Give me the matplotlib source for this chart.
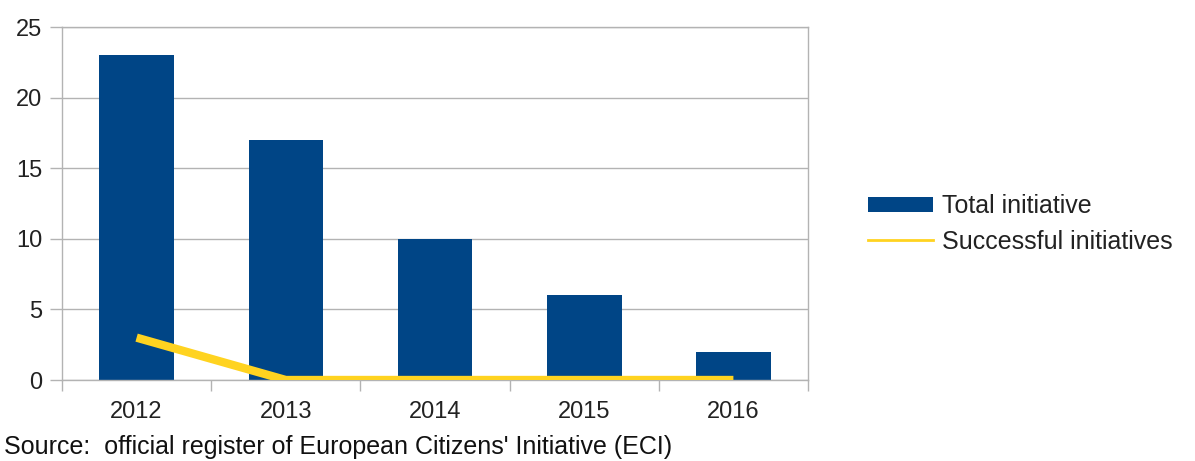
import numpy as np
from matplotlib import pyplot as plt
from matplotlib.patches import Patch
from matplotlib.lines import Line2D

years = ['2012', '2013', '2014', '2015', '2016']
total = [23, 17, 10, 6, 2]
successful = [3, 0, 0, 0, 0]

blue = '#004586'
yellow = '#ffd320'
grid = '#b3b3b3'

plt.rcParams['font.family'] = ['Liberation Sans', 'DejaVu Sans']

fig = plt.figure(figsize=(11.95, 4.61), dpi=100)
ax = fig.add_axes([62/1195, 81/461, 746/1195, 353/461])

x = np.arange(len(years))
ax.bar(x, total, width=0.5, color=blue, zorder=2)
ax.plot(x, successful, color=yellow, linewidth=6, solid_capstyle='butt', zorder=3)

ax.set_xlim(-0.5, len(years) - 0.5)
ax.set_ylim(0, 25)
ax.set_yticks([0, 5, 10, 15, 20, 25])
ax.yaxis.grid(True, color=grid, linewidth=1)
ax.set_axisbelow(True)

ax.set_xticks(np.arange(-0.5, len(years)), minor=False)
ax.set_xticklabels([])
ax.set_xticks(x, minor=True)
ax.set_xticklabels(years, minor=True)
ax.tick_params(axis='x', which='major', length=8, color=grid, width=1)
ax.tick_params(axis='x', which='minor', length=0, pad=15, labelsize=17, labelcolor='#222222')
ax.tick_params(axis='y', length=9, color=grid, width=1, pad=5, labelsize=17, labelcolor='#222222')
for s in ax.spines.values():
    s.set_color(grid)
    s.set_linewidth(1)

handles = [Patch(facecolor=blue, edgecolor='none'),
           Line2D([0], [0], color=yellow, linewidth=2)]
fig.legend(handles, ['Total initiative', 'Successful initiatives'],
           loc='center left', bbox_to_anchor=(845/1195, 1 - 224/461), frameon=False,
           fontsize=18, handlelength=2.6, handleheight=0.6, handletextpad=0.4,
           labelspacing=0.45, labelcolor='#222222')

fig.text(4/1195, 14/461, "Source:  official register of European Citizens' Initiative (ECI)",
         fontsize=18, color='#111111', va='center', ha='left')

plt.savefig('out.png', dpi=100)
